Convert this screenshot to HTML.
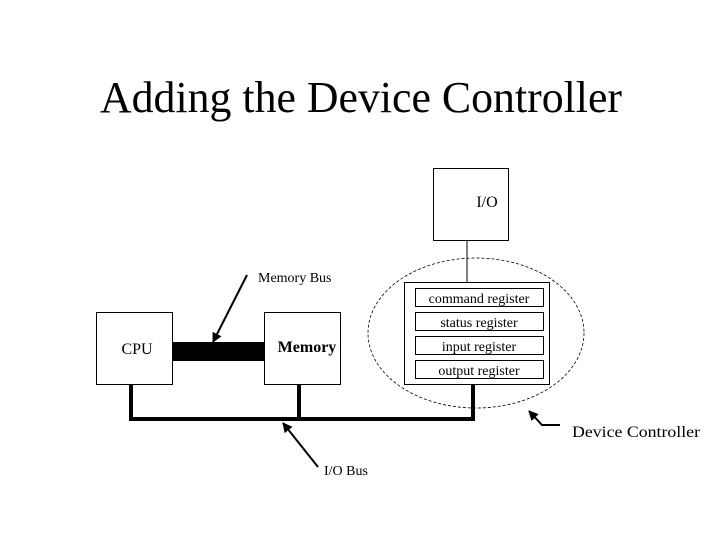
<!DOCTYPE html>
<html><head><style>
body{margin:0;background:#fff;}
svg{display:block;font-family:"Liberation Serif",serif;}
</style></head><body>
<svg width="720" height="540" viewBox="0 0 720 540" xmlns="http://www.w3.org/2000/svg">
<defs>
<marker id="ah" viewBox="0 0 10 10" refX="9" refY="5" markerWidth="5" markerHeight="5" orient="auto"><path d="M0,0L10,5L0,10z" fill="#000"/></marker>
</defs>
<text x="361" y="112" font-size="44" text-anchor="middle" textLength="522" lengthAdjust="spacingAndGlyphs">Adding the Device Controller</text>
<rect x="433.5" y="168.5" width="75" height="72" fill="#fff" stroke="#000"/>
<text x="487" y="207" font-size="16" text-anchor="middle">I/O</text>
<line x1="467" y1="240" x2="467" y2="282" stroke="#000"/>
<ellipse cx="476" cy="333" rx="108" ry="75" fill="none" stroke="#000" stroke-dasharray="3,2" stroke-width="0.8"/>
<rect x="404.5" y="282.5" width="145" height="102" fill="#fff" stroke="#000"/>
<rect x="415.5" y="288.5" width="128" height="18" fill="none" stroke="#000"/>
<rect x="415.5" y="312.5" width="128" height="18" fill="none" stroke="#000"/>
<rect x="415.5" y="336.5" width="128" height="18" fill="none" stroke="#000"/>
<rect x="415.5" y="360.5" width="128" height="18" fill="none" stroke="#000"/>
<g font-size="14" text-anchor="middle">
<text x="479" y="303">command register</text>
<text x="479" y="327">status register</text>
<text x="479" y="351">input register</text>
<text x="479" y="375">output register</text>
</g>
<rect x="96.5" y="312.5" width="76" height="72" fill="#fff" stroke="#000"/>
<text x="137" y="354" font-size="16" text-anchor="middle">CPU</text>
<rect x="264.5" y="312.5" width="76" height="72" fill="#fff" stroke="#000"/>
<text x="307" y="352" font-size="16" text-anchor="middle" font-weight="bold">Memory</text>
<rect x="173" y="342" width="91" height="19" fill="#000"/>
<path d="M131,384V419H473V384M299,384V419" fill="none" stroke="#000" stroke-width="4"/>
<line x1="247" y1="275" x2="213" y2="342" stroke="#000" stroke-width="2" marker-end="url(#ah)"/>
<text x="258" y="282" font-size="14">Memory Bus</text>
<path d="M560,425H542L529,411" fill="none" stroke="#000" stroke-width="2" marker-end="url(#ah)"/>
<text x="572" y="437" font-size="16" textLength="128" lengthAdjust="spacingAndGlyphs">Device Controller</text>
<line x1="318" y1="467" x2="283" y2="423" stroke="#000" stroke-width="2" marker-end="url(#ah)"/>
<text x="324" y="475" font-size="14">I/O Bus</text>
</svg>
</body></html>
